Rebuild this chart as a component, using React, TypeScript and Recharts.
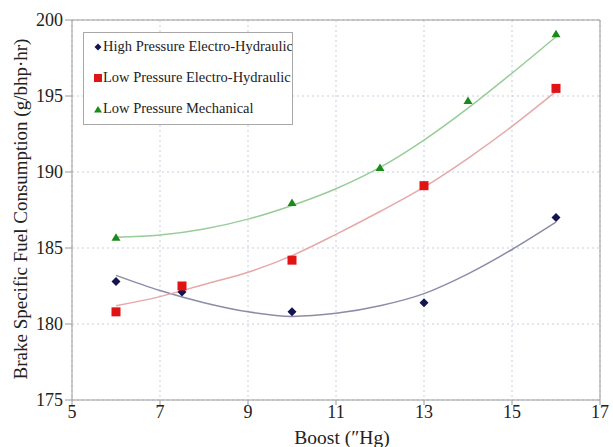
import {
  CartesianGrid,
  ComposedChart,
  Line,
  ReferenceLine,
  Scatter,
  XAxis,
  YAxis,
} from "recharts"

const FONT = "'Liberation Serif', 'Times New Roman', serif"

const HP_COLOR = "#141450"
const HP_LINE = "#8c8ca8"
const LPEH_COLOR = "#e01414"
const LPEH_LINE = "#e6a8a8"
const LPM_COLOR = "#1a8a1a"
const LPM_LINE = "#98cc98"
const AXIS_COLOR = "#9a9a9a"

// measured points
const hpBoost = [6, 7.5, 10, 13, 16]
const hpBsfc = [182.8, 182.1, 180.8, 181.4, 187.0]
const lpehBoost = [6, 7.5, 10, 13, 16]
const lpehBsfc = [180.8, 182.5, 184.2, 189.1, 195.5]
const lpmBoost = [6, 10, 12, 14, 16]
const lpmBsfc = [185.7, 188.0, 190.3, 194.7, 199.1]

// trend lines
const trendBoost = [6, 7, 8, 9, 10, 11, 12, 13, 14, 15, 16]
const hpTrend = [183.2, 182.2, 181.4, 180.8, 180.5, 180.7, 181.2, 182.0, 183.3, 184.9, 186.7]
const lpehTrend = [181.2, 181.8, 182.6, 183.4, 184.5, 185.9, 187.4, 189.0, 190.9, 193.0, 195.3]
const lpmTrend = [185.7, 185.85, 186.25, 186.9, 187.8, 188.9, 190.3, 192.1, 194.2, 196.5, 198.9]

const xTicks = [5, 7, 9, 11, 13, 15, 17]
const yTicks = [175, 180, 185, 190, 195, 200]

const labels = [
  "High Pressure Electro-Hydraulic",
  "Low Pressure Electro-Hydraulic",
  "Low Pressure Mechanical",
]

const toPoints = (xs: number[], ys: number[]) => xs.map((x, i) => ({ x, y: ys[i] }))

const tickStyle = { fontSize: 18, fill: "#222", fontFamily: FONT }

const Diamond = (p: any) => (
  <polygon
    points={`${p.cx},${p.cy - 4.5} ${p.cx + 4.5},${p.cy} ${p.cx},${p.cy + 4.5} ${p.cx - 4.5},${p.cy}`}
    fill={HP_COLOR}
  />
)
const Square = (p: any) => (
  <rect x={p.cx - 4.5} y={p.cy - 4.5} width={9} height={9} fill={LPEH_COLOR} />
)
const Triangle = (p: any) => (
  <polygon
    points={`${p.cx},${p.cy - 4} ${p.cx + 4.5},${p.cy + 3.5} ${p.cx - 4.5},${p.cy + 3.5}`}
    fill={LPM_COLOR}
  />
)

function LegendBox() {
  const marker = (i: number) => {
    if (i === 0) return <polygon points="4,0.5 7.5,4 4,7.5 0.5,4" fill={HP_COLOR} />
    if (i === 1) return <rect x={0} y={0} width={8} height={8} fill={LPEH_COLOR} />
    return <polygon points="4,1 8,7.5 0,7.5" fill={LPM_COLOR} />
  }
  return (
    <div
      style={{
        position: "absolute",
        left: 83,
        top: 32,
        width: 210,
        height: 93,
        border: "1px solid #a8a8a8",
        background: "#fff",
        fontFamily: FONT,
        fontSize: 14.5,
        color: "#222",
        boxSizing: "border-box",
        overflow: "hidden",
      }}
    >
      {labels.map((l, i) => (
        <div
          key={l}
          style={{
            position: "absolute",
            left: 10,
            top: 5 + i * 31,
            display: "flex",
            alignItems: "center",
            whiteSpace: "nowrap",
          }}
        >
          <svg width={8} height={8} style={{ marginRight: 1 }}>
            {marker(i)}
          </svg>
          {l}
        </div>
      ))}
    </div>
  )
}

export default function App() {
  return (
    <div style={{ position: "absolute", left: 0, top: 0, width: 613, height: 447, background: "#fff" }}>
      <ComposedChart
        width={613}
        height={447}
        margin={{ top: 20, right: 13, bottom: 0, left: 0 }}
      >
        <CartesianGrid stroke="#c4cde0" strokeDasharray="2 3" />
        <XAxis
          type="number"
          dataKey="x"
          domain={[5, 17]}
          ticks={xTicks}
          height={47}
          stroke={AXIS_COLOR}
          tickSize={5}
          tickMargin={0}
          tick={tickStyle}
          label={{
            content: () => (
              <text
                x={342}
                y={444}
                textAnchor="middle"
                style={{ fontSize: 19.5, fill: "#222", fontFamily: FONT }}
              >
                Boost (″Hg)
              </text>
            ),
          }}
        />
        <YAxis
          type="number"
          dataKey="y"
          domain={[175, 200]}
          ticks={yTicks}
          width={72}
          stroke={AXIS_COLOR}
          tickSize={7}
          tickMargin={2}
          tick={tickStyle}
          label={{
            content: () => (
              <text
                x={20}
                y={209}
                transform="rotate(-90 20 209)"
                textAnchor="middle"
                dominantBaseline="central"
                style={{ fontSize: 19, fill: "#222", fontFamily: FONT }}
              >
                Brake Specific Fuel Consumption (g/bhp·hr)
              </text>
            ),
          }}
        />
        <ReferenceLine y={200} stroke={AXIS_COLOR} />
        <ReferenceLine x={17} stroke={AXIS_COLOR} />
        <Line
          data={toPoints(trendBoost, hpTrend)}
          dataKey="y"
          type="monotone"
          stroke={HP_LINE}
          strokeWidth={1.5}
          dot={false}
          activeDot={false}
          isAnimationActive={false}
        />
        <Line
          data={toPoints(trendBoost, lpehTrend)}
          dataKey="y"
          type="monotone"
          stroke={LPEH_LINE}
          strokeWidth={1.5}
          dot={false}
          activeDot={false}
          isAnimationActive={false}
        />
        <Line
          data={toPoints(trendBoost, lpmTrend)}
          dataKey="y"
          type="monotone"
          stroke={LPM_LINE}
          strokeWidth={1.5}
          dot={false}
          activeDot={false}
          isAnimationActive={false}
        />
        <Scatter data={toPoints(hpBoost, hpBsfc)} shape={Diamond} isAnimationActive={false} />
        <Scatter data={toPoints(lpehBoost, lpehBsfc)} shape={Square} isAnimationActive={false} />
        <Scatter data={toPoints(lpmBoost, lpmBsfc)} shape={Triangle} isAnimationActive={false} />
      </ComposedChart>
      <LegendBox />
    </div>
  )
}
